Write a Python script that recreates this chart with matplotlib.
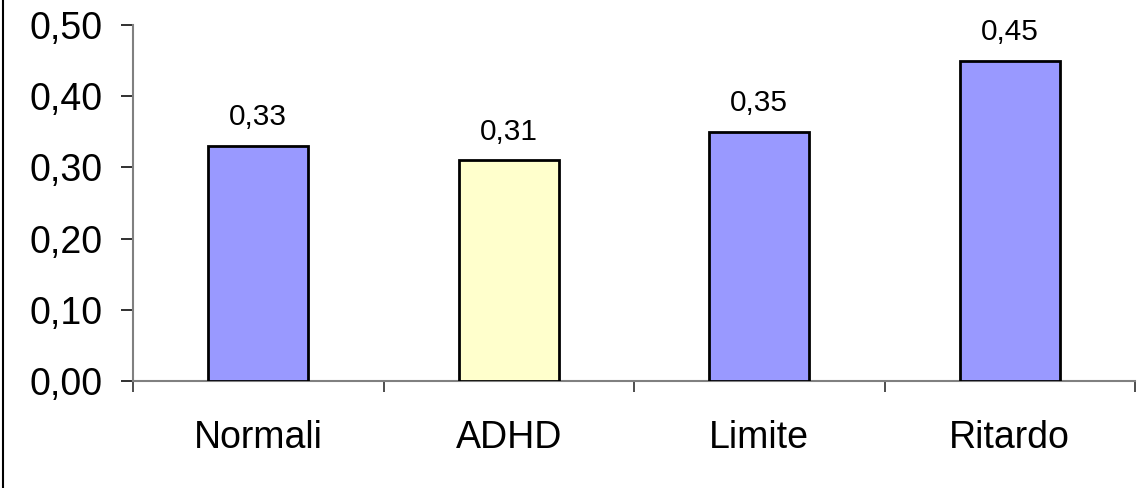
import matplotlib.pyplot as plt
from matplotlib.lines import Line2D

categories = ['Normali', 'ADHD', 'Limite', 'Ritardo']
values = [0.33, 0.31, 0.35, 0.45]
colors = ['#9999FF', '#FFFFCC', '#9999FF', '#9999FF']
yticks = [0.0, 0.1, 0.2, 0.3, 0.4, 0.5]

plt.rcParams['font.family'] = ['Liberation Sans', 'DejaVu Sans']

W, H = 1143, 488
fig = plt.figure(figsize=(W / 100, H / 100), dpi=100)
ax = fig.add_axes([133 / W, (H - 381) / H, (1135 - 133) / W, (381 - 25) / H])

x = range(len(categories))
ax.bar(x, values, width=0.4, color=colors, edgecolor='black', linewidth=2, zorder=3)

for xi, v in zip(x, values):
    ax.text(xi, v + 0.029, f'{v:.2f}'.replace('.', ','), ha='center', va='baseline',
            fontsize=21.5)

ax.set_xlim(-0.5, len(categories) - 0.5)
ax.set_ylim(0, 0.5)
ax.set_yticks(yticks)
ax.set_yticklabels([f'{t:.2f}'.replace('.', ',') for t in yticks], fontsize=27)

# category labels centred, tick marks on the boundaries
ax.set_xticks([i - 0.5 for i in range(len(categories) + 1)])
ax.set_xticklabels([])
ax.set_xticks(list(x), minor=True)
ax.set_xticklabels(categories, minor=True, fontsize=27)
ax.tick_params(axis='x', which='minor', length=0, pad=28)
ax.tick_params(axis='x', which='major', length=8, width=1.3, color='#404040')
ax.tick_params(axis='y', length=8.6, width=1.3, color='#202020', pad=13)

for side in ['top', 'right']:
    ax.spines[side].set_visible(False)
for side in ['left', 'bottom']:
    ax.spines[side].set_color('#808080')
    ax.spines[side].set_linewidth(1.5)

fig.add_artist(Line2D([3 / W, 3 / W], [0, 1], color='black', linewidth=1.5,
                      transform=fig.transFigure))

fig.savefig('out.png', dpi=100)
